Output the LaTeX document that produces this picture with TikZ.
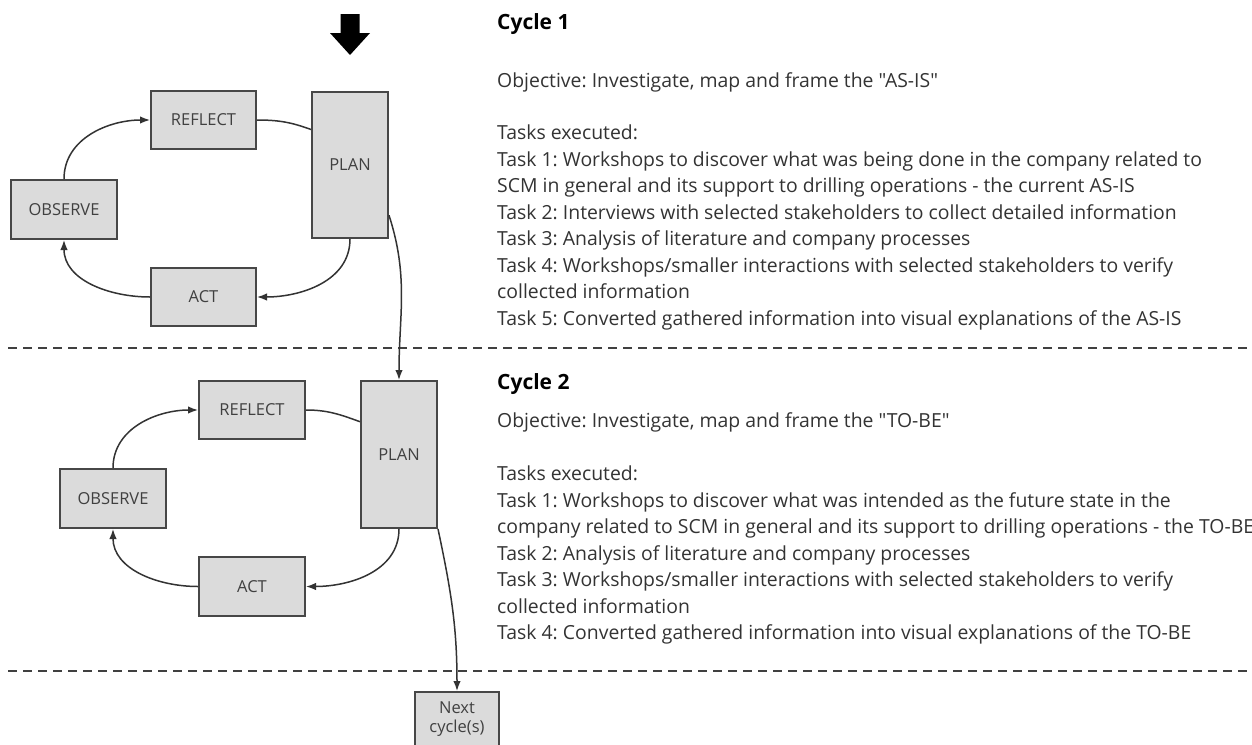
\documentclass[tikz,border=0pt]{standalone}
\usepackage{fontspec}
\setmainfont{Open Sans}
\newfontfamily\plainfont{Open Sans}
\frenchspacing
\usetikzlibrary{arrows.meta,calc}
\begin{document}
\begin{tikzpicture}[x=1pt,y=1pt,
  stagebox/.style={draw=black!72, line width=2pt, fill=black!14, inner sep=0pt,
    text=black!75, font=\fontsize{16.5}{19}\selectfont, align=center},
  conn/.style={draw=black!80, line width=1.5pt},
  arr/.style={conn, -{Latex[length=10pt,width=7.5pt]}},
  heading/.style={anchor=base west, inner sep=0pt, text=black, font=\bfseries\fontsize{21}{25}\selectfont},
  body/.style={anchor=base west, inner sep=0pt, text=black!80, align=left, font=\plainfont\fontsize{19.4}{26.5}\selectfont},
  sepline/.style={draw=black!75, line width=2pt, dash pattern=on 9pt off 6pt}]
\useasboundingbox (0,0) rectangle (1252,-744);

% separators
\coordinate (s1l) at (8,-348);  \coordinate (s1r) at (1252,-348);
\coordinate (s2l) at (8,-671);  \coordinate (s2r) at (1252,-671);
\draw[sepline] (s1l) -- (s1r);
\draw[sepline] (s2l) -- (s2r);

% entry arrow
\fill[black] (340.5,-14) -- (359.5,-14) -- (359.5,-33) -- (370,-33) -- (350,-55)
  -- (330,-33) -- (340.5,-33) -- cycle;

% cycle 1
\node[stagebox, minimum width=105, minimum height=58] (refl1) at (203.5,-120) {REFLECT};
\node[stagebox, minimum width=76, minimum height=146] (plan1) at (350,-165) {PLAN};
\node[stagebox, minimum width=106, minimum height=59] (obs1) at (64,-209.5) {OBSERVE};
\node[stagebox, minimum width=105, minimum height=58] (act1) at (203.5,-297) {ACT};

\draw[conn] (refl1.east) to[out=0,in=160] ($(plan1.north west)!0.26!(plan1.south west)$);
\draw[arr] (plan1.south) to[out=-90,in=0] (act1.east);
\draw[arr] (act1.west) to[out=180,in=-90] (obs1.south);
\draw[arr] (obs1.north) to[out=90,in=180] (refl1.west);

% cycle 2
\node[stagebox, minimum width=106, minimum height=58] (refl2) at (252,-410) {REFLECT};
\node[stagebox, minimum width=76, minimum height=147] (plan2) at (399,-454.5) {PLAN};
\node[stagebox, minimum width=106, minimum height=59] (obs2) at (113,-498.5) {OBSERVE};
\node[stagebox, minimum width=106, minimum height=59] (act2) at (252,-586.5) {ACT};
\node[stagebox, minimum width=84, minimum height=54] (next) at (457,-719) {Next\\cycle(s)};

\draw[conn] (refl2.east) to[out=0,in=160] ($(plan2.north west)!0.28!(plan2.south west)$);
\draw[arr] (plan2.south) to[out=-90,in=0] (act2.east);
\draw[arr] (act2.west) to[out=180,in=-90] (obs2.south);
\draw[arr] (obs2.north) to[out=90,in=180] (refl2.west);

\draw[arr] ($(plan1.north east)!0.84!(plan1.south east)$) to[out=-72,in=90] (plan2.north);
\draw[arr] (plan2.south east) to[out=-78,in=90] (next.north);

% texts cycle 1 (multi-line nodes: base = baseline of last line)
\node[heading] (h1) at (497,-29.5) {Cycle 1};
\node[body] (o1) at (497,-87) {Objective: Investigate, map and frame the "AS-IS"};
\node[body] (t1) at (497,-325) {Tasks executed:\\
Task 1: Workshops to discover what was being done in the company related to\\
SCM in general and its support to drilling operations - the current AS-IS\\
Task 2: Interviews with selected stakeholders to collect detailed information\\
Task 3: Analysis of literature and company processes\\
Task 4: Workshops/smaller interactions with selected stakeholders to verify\\
collected information\\
Task 5: Converted gathered information into visual explanations of the AS-IS};

% texts cycle 2
\node[heading] (h2) at (497,-389.5) {Cycle 2};
\node[body] (o2) at (497,-427) {Objective: Investigate, map and frame the "TO-BE"};
\node[body] (t2) at (497,-639.5) {Tasks executed:\\
Task 1: Workshops to discover what was intended as the future state in the\\
company related to SCM in general and its support to drilling operations - the TO-BE\\
Task 2: Analysis of literature and company processes\\
Task 3: Workshops/smaller interactions with selected stakeholders to verify\\
collected information\\
Task 4: Converted gathered information into visual explanations of the TO-BE};
\end{tikzpicture}
\end{document}
